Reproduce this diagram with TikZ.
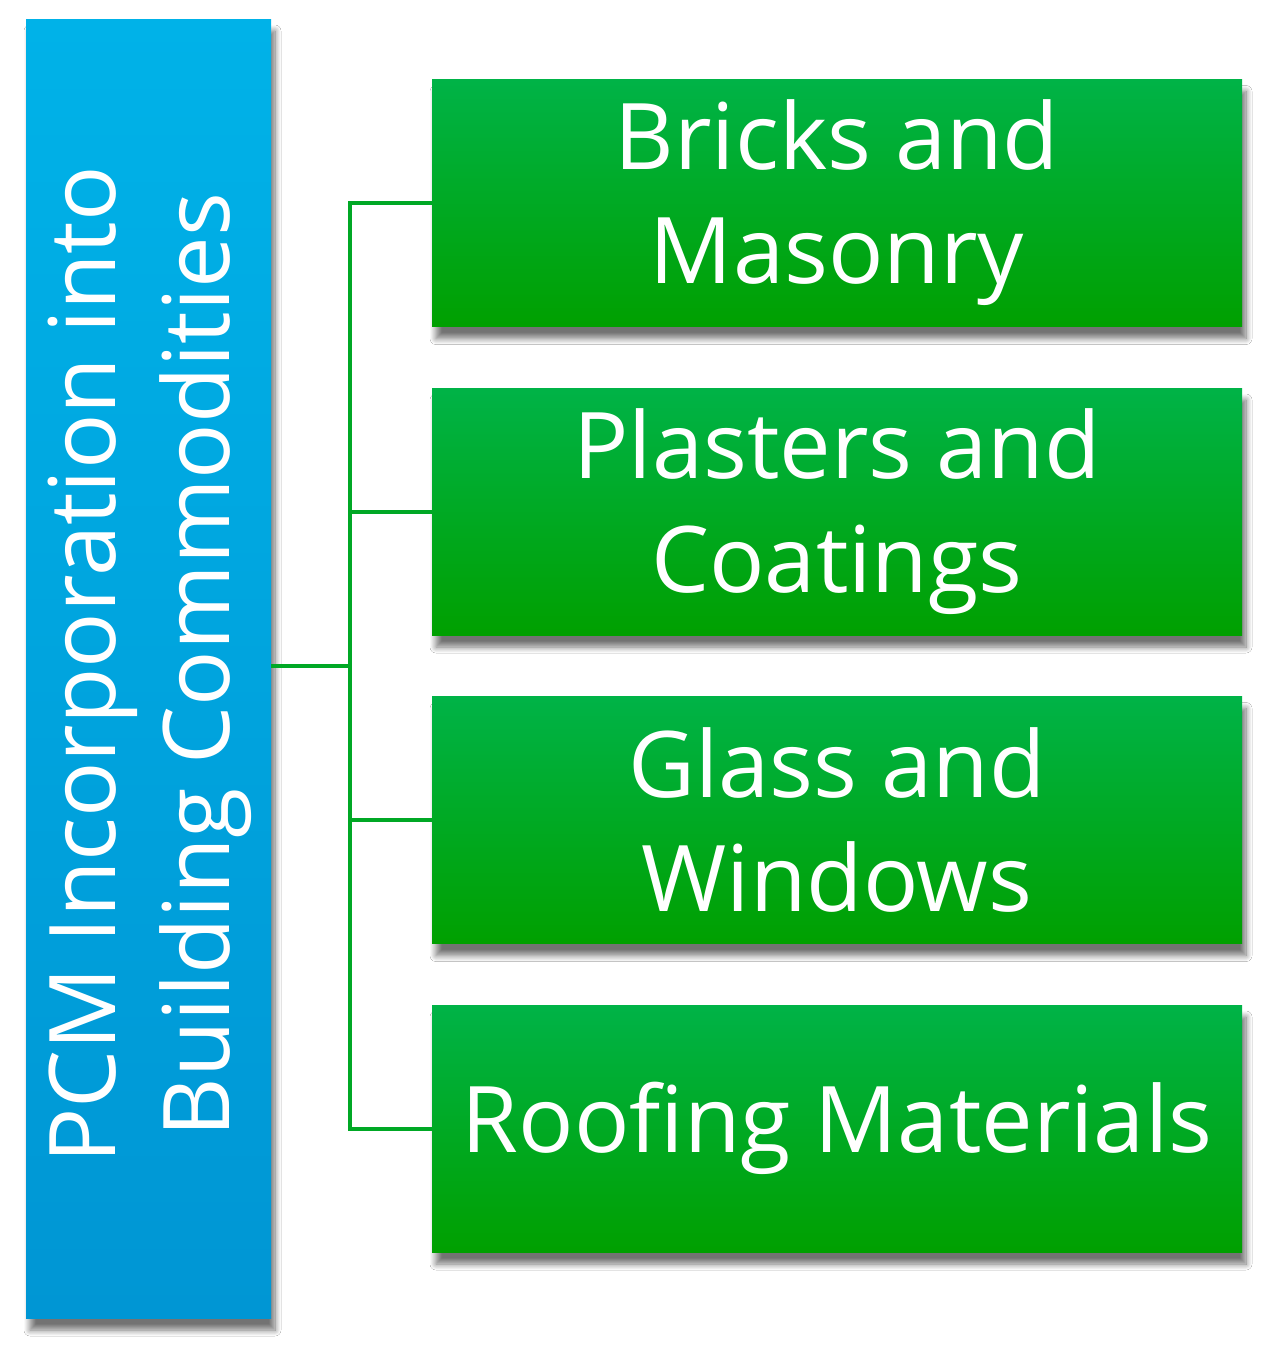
\documentclass[tikz,border=0pt]{standalone}
\usepackage{fontspec}
\setmainfont{Open Sans}
\usetikzlibrary{shadows.blur,shadings}
\definecolor{bluetop}{HTML}{00B2E8}
\definecolor{bluebot}{HTML}{0096D4}
\definecolor{greentop}{HTML}{00B347}
\definecolor{greenbot}{HTML}{00A000}
\definecolor{linegreen}{HTML}{00A825}
\tikzset{
  softshadow/.style={blur shadow={shadow xshift=2pt, shadow yshift=-6pt, shadow blur radius=3pt, shadow blur steps=10, shadow opacity=55}},
  rootbox/.style={rectangle, minimum width=122.5pt, minimum height=649.5pt,
    top color=bluetop, bottom color=bluebot, draw=none, inner sep=0pt, softshadow},
  leafbox/.style={rectangle, minimum width=405pt, minimum height=123.5pt,
    top color=greentop, bottom color=greenbot, draw=none, inner sep=0pt,
    text=white, align=center, font=\fontsize{46}{57}\selectfont, softshadow},
  roottext/.style={text=white, align=center, rotate=90, font=\fontsize{46}{57}\selectfont, inner sep=0pt},
  conn/.style={draw=linegreen, line width=2pt}
}
\begin{document}
\begin{tikzpicture}[x=0.5pt,y=-0.5pt]
\useasboundingbox[fill=white] (0,0) rectangle (1274,1356);
\node[rootbox] (root) at (148.5,668.5) {};
\node[roottext] (roottxt) at (150,665) {PCM Incorporation into\\Building Commodities};
\node[leafbox] (b1) at (837,203) {Bricks and\\Masonry};
\node[leafbox] (b2) at (837,511.5) {Plasters and\\Coatings};
\node[leafbox] (b3) at (837,820) {Glass and\\Windows};
\node[leafbox] (b4) at (837,1128.5) {Roofing Materials};
\coordinate (j) at (350,666);
\draw[conn] (root.east |- j) -- (j);
\draw[conn] (j) |- (b1.west);
\draw[conn] (j) |- (b2.west);
\draw[conn] (j) |- (b3.west);
\draw[conn] (j) |- (b4.west);
\end{tikzpicture}
\end{document}
